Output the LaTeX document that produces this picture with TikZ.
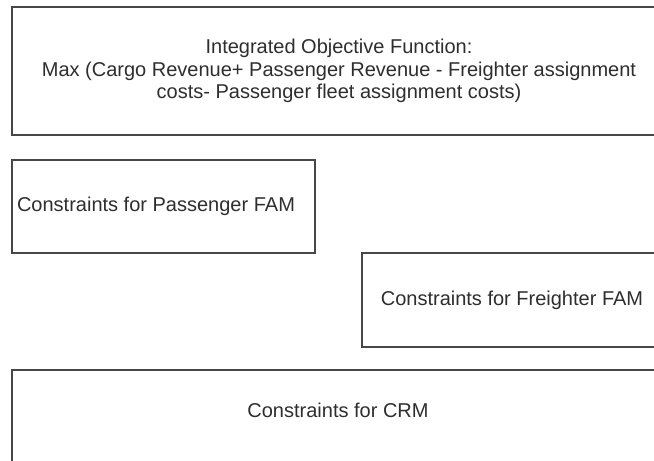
\documentclass[tikz,border=0pt]{standalone}
\usepackage{fontspec}
\setmainfont{Liberation Sans}
\begin{document}
\begin{tikzpicture}[x=1pt,y=-1pt,
  blk/.style={draw=black!72, line width=1.7pt, fill=white},
  lbl/.style={text=black!82, font=\fontsize{20}{22.5}\selectfont, align=center, inner sep=0pt}]
  \useasboundingbox (0,0) rectangle (654,461);
  % model blocks
  \path[blk] (12,7) rectangle (664,135);
  \path[blk] (12,160) rectangle (315,253);
  \path[blk] (362,253) rectangle (664,347);
  \path[blk] (12,370) rectangle (664,475);
  % texts
  \node[lbl] (obj) at (339,71) {Integrated Objective Function:\\Max (Cargo Revenue+ Passenger Revenue - Freighter assignment\\costs- Passenger fleet assignment costs)};
  \node[lbl] (pfam) at (156,206) {Constraints for Passenger FAM};
  \node[lbl] (ffam) at (512,300) {Constraints for Freighter FAM};
  \node[lbl] (crm) at (338,410) {Constraints for CRM};
\end{tikzpicture}
\end{document}
